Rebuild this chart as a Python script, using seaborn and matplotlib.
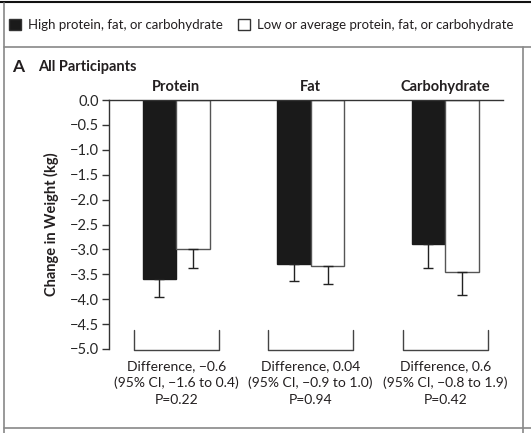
import matplotlib
matplotlib.use("Agg")
import matplotlib.pyplot as plt
from matplotlib.lines import Line2D
import numpy as np
import pandas as pd
import seaborn as sns

# values (kg)
nutrients = ["Protein", "Fat", "Carbohydrate"]
levels = ["High protein, fat, or carbohydrate", "Low or average protein, fat, or carbohydrate"]
high_change = [-3.6, -3.29, -2.89]
high_err = [0.35, 0.34, 0.49]
low_change = [-3.0, -3.33, -3.45]
low_err = [0.37, 0.37, 0.47]
diff_text = [
    "Difference, \u22120.6\n(95% CI, \u22121.6 to 0.4)\nP=0.22",
    "Difference, 0.04\n(95% CI, \u22120.9 to 1.0)\nP=0.94",
    "Difference, 0.6\n(95% CI, \u22120.8 to 1.9)\nP=0.42",
]
yticks = list(np.linspace(0, -5, 11))

TEXT = "#231f20"

sns.set_style("white")
plt.rcParams["font.family"] = ["Lato", "DejaVu Sans"]
plt.rcParams["text.color"] = TEXT
plt.rcParams["axes.labelcolor"] = TEXT

df = pd.DataFrame({
    "nutrient": nutrients * 2,
    "level": [levels[0]] * 3 + [levels[1]] * 3,
    "change": high_change + low_change,
})

W, H = 531, 433
fig = plt.figure(figsize=(W / 100, H / 100), dpi=100)
ax = fig.add_axes([109 / W, 1 - 349 / H, (503 - 109) / W, (349 - 100) / H])

sns.barplot(data=df, x="nutrient", y="change", hue="level", order=nutrients,
            hue_order=levels, palette=["#1a1a1a", "white"], width=0.5,
            errorbar=None, ax=ax, linewidth=1.0, saturation=1)

# edges + one-sided error bars
for cont, errs, ec in zip(ax.containers, [high_err, low_err], ["#1a1a1a", "#555555"]):
    xs, ys = [], []
    for p in cont.patches:
        p.set_edgecolor(ec)
        xs.append(p.get_x() + p.get_width() / 2)
        ys.append(p.get_height())
    ax.errorbar(xs, ys, yerr=[errs, [0] * len(errs)], fmt="none",
                ecolor="#222222", elinewidth=1.0, capsize=3.5, capthick=1.0)

ax.set_xlim(-0.5, 2.43)
ax.set_ylim(-5, 0)
ax.set_yticks(yticks)
ax.set_yticklabels([f"{v:.1f}".replace("-", "\u2212") for v in yticks], fontsize=10.5)
ax.tick_params(axis="y", left=True, length=5, width=1, color="#333333", pad=2)
ax.set_xticks([])
ax.set_xlabel("")
ax.set_ylabel("Change in Weight (kg)", fontsize=10.5, fontweight="bold", labelpad=8)
for s in ["right", "bottom"]:
    ax.spines[s].set_visible(False)
for s in ["left", "top"]:
    ax.spines[s].set_color("#333333")
    ax.spines[s].set_linewidth(1.0)

handles, labels = ax.get_legend_handles_labels()
ax.get_legend().remove()
for h in handles:
    h.set_edgecolor("#333333")
fig.legend(handles, labels, loc="center left", bbox_to_anchor=(0.0, 1 - 25 / H),
           ncol=2, frameon=False, fontsize=9.5, handlelength=0.9, handleheight=0.9,
           handletextpad=0.5, columnspacing=1.2, borderaxespad=0.3)

# group titles, brackets and difference text
for i, (name, txt) in enumerate(zip(nutrients, diff_text)):
    ax.text(i, 0.27, name, ha="center", va="center", fontsize=10.5, fontweight="bold")
    hw = 0.316
    ax.plot([i - hw, i - hw, i + hw, i + hw], [-4.62, -5.02, -5.02, -4.62],
            color="#444444", lw=1.0, clip_on=False)
    ax.text(i, -5.22, txt, ha="center", va="top", fontsize=10, linespacing=1.45,
            transform=ax.transData)

fig.text(12 / W, 1 - 67 / H, "A", fontsize=12.5, fontweight="bold", va="center")
fig.text(38 / W, 1 - 67 / H, "All Participants", fontsize=10.5, fontweight="bold", va="center")

# frame lines
def hline(y, x0, x1, color, lw):
    fig.add_artist(Line2D([x0 / W, x1 / W], [1 - y / H, 1 - y / H], color=color, lw=lw))

def vline(x, y0, y1, color, lw):
    fig.add_artist(Line2D([x / W, x / W], [1 - y0 / H, 1 - y1 / H], color=color, lw=lw))

hline(2, 0, W, "#111111", 1.5)
hline(47, 4, W, "#888888", 1.2)
hline(428, 4, W, "#888888", 1.2)
vline(4, 3, H, "#888888", 1.2)
vline(523, 47, H, "#888888", 1.2)

fig.savefig("out.png", dpi=100)
